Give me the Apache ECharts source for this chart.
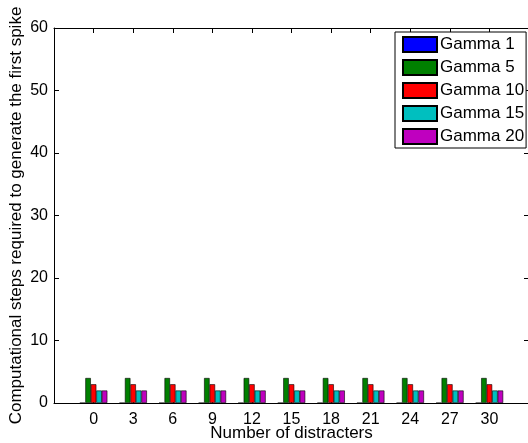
<!DOCTYPE html>
<html>
<head>
<meta charset="utf-8">
<script src="https://cdn.jsdelivr.net/npm/echarts@6/dist/echarts.min.js"></script>
<style>
  html, body { margin: 0; padding: 0; background: #fff; }
  #chart { width: 528px; height: 443px; }
</style>
</head>
<body>
<div id="chart"></div>
<script>
// Number of distracters on the x axis
const distracters = [0, 3, 6, 9, 12, 15, 18, 21, 24, 27, 30];

// Computational steps needed before the first spike, per gamma setting
const gamma1  = [0, 0, 0, 0, 0, 0, 0, 0, 0, 0, 0];
const gamma5  = [4, 4, 4, 4, 4, 4, 4, 4, 4, 4, 4];
const gamma10 = [3, 3, 3, 3, 3, 3, 3, 3, 3, 3, 3];
const gamma15 = [2, 2, 2, 2, 2, 2, 2, 2, 2, 2, 2];
const gamma20 = [2, 2, 2, 2, 2, 2, 2, 2, 2, 2, 2];

const seriesNames = ['Gamma 1', 'Gamma 5', 'Gamma 10', 'Gamma 15', 'Gamma 20'];
const seriesValues = [gamma1, gamma5, gamma10, gamma15, gamma20];
const seriesColors = ['#0000ff', '#008000', '#ff0000', '#00bfbf', '#bf00bf'];

const yTicks = [0, 10, 20, 30, 40, 50, 60];

const FONT = "'Liberation Sans', Arial, Helvetica, sans-serif";

const chart = echarts.init(document.getElementById('chart'), null, { renderer: 'canvas' });

const boxAxisLine = { show: true, onZero: false, lineStyle: { color: '#000', width: 1 } };
const innerTick = { show: true, inside: true, length: 5, lineStyle: { color: '#000', width: 1 } };

chart.setOption({
  animation: false,
  backgroundColor: '#fff',
  grid: {
    left: 54, top: 28, width: 475, height: 375,
    containLabel: false,
    outerBoundsMode: 'none'
  },
  legend: {
    orient: 'vertical',
    left: 395,
    top: 32,
    width: 130,
    padding: [4, 2, 3, 7],
    itemWidth: 34,
    itemHeight: 15,
    itemGap: 6,
    backgroundColor: '#fff',
    borderColor: '#000',
    borderWidth: 1,
    borderRadius: 0,
    icon: 'rect',
    textStyle: {
      fontFamily: FONT, fontSize: 17, lineHeight: 15, color: '#000',
      padding: [0, 0, 0, -2]
    },
    data: seriesNames
  },
  xAxis: [
    {
      type: 'value',
      min: -3,
      max: 33,
      interval: 3,
      position: 'bottom',
      name: 'Number of distracters',
      nameLocation: 'middle',
      nameGap: 22,
      nameMoveOverlap: false,
      nameTextStyle: { fontFamily: FONT, fontSize: 17, color: '#000' },
      axisLine: boxAxisLine,
      axisTick: Object.assign({ customValues: distracters }, innerTick),
      axisLabel: {
        customValues: distracters,
        fontFamily: FONT, fontSize: 16, color: '#000', margin: 9
      },
      splitLine: { show: false }
    },
    {
      type: 'value',
      min: -3,
      max: 33,
      interval: 3,
      position: 'top',
      axisLine: boxAxisLine,
      axisTick: Object.assign({ customValues: distracters }, innerTick),
      axisLabel: { show: false },
      splitLine: { show: false }
    }
  ],
  yAxis: [
    {
      type: 'value',
      min: 0,
      max: 60,
      interval: 10,
      position: 'left',
      name: 'Computational steps required to generate the first spike',
      nameLocation: 'middle',
      nameGap: 29,
      nameMoveOverlap: false,
      nameTextStyle: { fontFamily: FONT, fontSize: 17, color: '#000' },
      axisLine: boxAxisLine,
      axisTick: Object.assign({ customValues: yTicks }, innerTick),
      axisLabel: { fontFamily: FONT, fontSize: 16, color: '#000', margin: 6 },
      splitLine: { show: false }
    },
    {
      type: 'value',
      min: 0,
      max: 60,
      interval: 10,
      position: 'right',
      axisLine: boxAxisLine,
      axisTick: innerTick,
      axisLabel: { show: false },
      splitLine: { show: false }
    }
  ],
  series: seriesNames.map((name, i) => ({
    name: name,
    type: 'bar',
    xAxisIndex: 0,
    yAxisIndex: 0,
    barWidth: 5.5,
    barGap: '0%',
    itemStyle: { color: seriesColors[i], borderColor: '#000', borderWidth: 0.6 },
    data: distracters.map((d, j) => [d, seriesValues[i][j]])
  }))
});
</script>
</body>
</html>
